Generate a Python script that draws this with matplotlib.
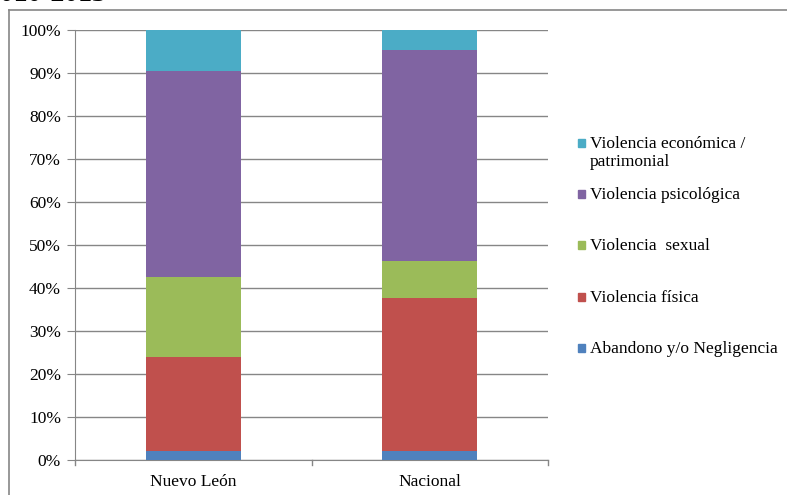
import numpy as np
import matplotlib
matplotlib.use('Agg')
import matplotlib.pyplot as plt
from matplotlib.patches import Rectangle
from matplotlib.lines import Line2D

plt.rcParams['font.family'] = ['Liberation Serif', 'DejaVu Serif']

# porcentaje de casos por tipo de violencia
regiones = ['Nuevo León', 'Nacional']
tipos = ['Abandono y/o Negligencia', 'Violencia física', 'Violencia  sexual',
         'Violencia psicológica', 'Violencia económica /\npatrimonial']
abandono = [2.1, 2.1]
fisica = [21.9, 35.6]
sexual = [18.6, 8.6]
psicologica = [47.9, 49.0]
economica = [9.5, 4.7]
colores = ['#4F81BD', '#C0504D', '#9BBB59', '#8064A2', '#4BACC6']

W, H = 787, 495
fs = 12.5
fig = plt.figure(figsize=(W / 100, H / 100), dpi=100)
ax = fig.add_axes([75 / W, (H - 460) / H, 473 / W, 430 / H])

x = np.arange(len(regiones))
base = np.zeros(len(regiones))
for serie, color in zip([abandono, fisica, sexual, psicologica, economica], colores):
    ax.bar(x, serie, 0.4, bottom=base, color=color, zorder=3)
    base += np.array(serie)

gris = '#868686'
ax.set_xlim(-0.5, 1.5)
ax.set_ylim(0, 100)
ax.set_yticks(np.arange(0, 101, 10))
ax.set_yticklabels(['%d%%' % v for v in range(0, 101, 10)], fontsize=fs)
ax.yaxis.grid(True, color=gris, lw=1, zorder=0)
ax.set_xticks(x)
ax.set_xticklabels(regiones, fontsize=fs)
ax.tick_params(axis='x', length=0, pad=10)
ax.tick_params(axis='y', length=6, color=gris, pad=4)
# marcas entre categorias
for xt in [-0.5, 0.5, 1.5]:
    ax.plot([xt, xt], [0, -1.2], color=gris, lw=1, clip_on=False)
for s in ['top', 'right']:
    ax.spines[s].set_visible(False)
ax.spines['left'].set_color(gris)
ax.spines['bottom'].set_color(gris)

# leyenda, de arriba hacia abajo
ys = [143, 194, 245, 297, 348]
for yy, nombre, color in zip(ys, tipos[::-1], colores[::-1]):
    fig.add_artist(Rectangle((578 / W, 1 - (yy + 4) / H), 7 / W, 8 / H,
                             color=color, transform=fig.transFigure))
    fig.text(590 / W, 1 - (yy - 7) / H, nombre, fontsize=fs, va='top',
             linespacing=1.15)

# marco exterior
fig.add_artist(Line2D([9 / W, 9 / W], [0, 1 - 10 / H], color=gris, lw=1.2))
fig.add_artist(Line2D([9 / W, 1], [1 - 10 / H, 1 - 10 / H], color=gris, lw=1.2))

fig.text(107 / W, 1 - 1 / H, '2010-2013', fontsize=20, fontweight='bold',
         ha='right', va='baseline')

fig.savefig('out.png', dpi=100)
